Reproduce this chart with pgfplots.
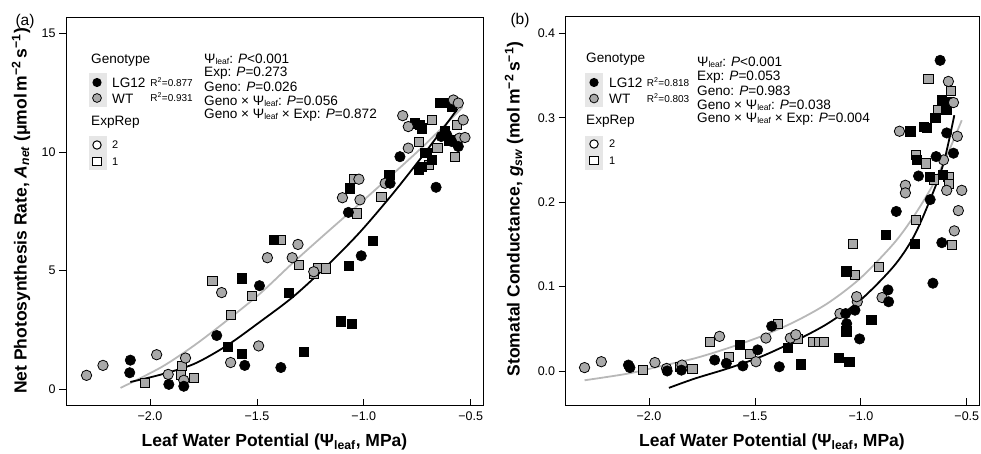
\documentclass[border=0pt]{standalone}
\usepackage{fontspec}
\setmainfont{Liberation Sans}
\usepackage{pgfplots}
\pgfplotsset{compat=1.18}
\usepackage{pgfplotstable}

\definecolor{ptgray}{HTML}{A9A9A9}
\definecolor{lngray}{HTML}{B8B8B8}
\definecolor{keybg}{HTML}{E6E6E6}

% ---------------- Panel (a): Net photosynthesis ----------------
\pgfplotstableread{
x y
-2.092 1.23
-2.095 0.70
-1.912 0.21
-1.842 0.13
-1.688 2.27
-1.557 1.01
-1.488 4.37
-1.388 0.92
-1.072 7.46
-1.012 5.63
-0.877 8.69
-0.831 9.81
-0.662 8.52
-0.638 10.66
-0.612 10.73
-0.589 10.45
-0.558 10.24
}\aLGc
\pgfplotstableread{
x y
-1.638 1.79
-1.569 4.68
-1.569 1.51
-1.420 6.30
-1.351 4.08
-1.282 1.58
-1.108 2.87
-1.058 2.77
-1.069 5.21
-0.957 6.27
-1.065 8.48
-0.881 9.05
-0.760 11.22
-0.737 11.15
-0.729 11.01
-0.644 12.07
-0.612 12.07
-0.589 11.92
-0.742 9.25
-0.715 9.96
-0.706 9.96
-0.683 9.68
-0.729 9.39
-0.620 10.90
-0.600 10.50
}\aLGs
\pgfplotstableread{
x y
-2.297 0.59
-2.220 1.01
-1.969 1.46
-1.915 0.63
-1.834 1.32
-1.842 0.38
-1.623 1.13
-1.492 1.83
-1.665 4.08
-1.451 5.55
-1.308 6.11
-1.335 5.55
-1.234 4.96
-1.100 8.08
-1.018 7.99
-1.023 8.86
-0.900 8.69
-0.818 11.54
-0.792 11.08
-0.792 10.17
-0.581 12.20
-0.558 12.07
-0.535 11.36
-0.553 10.59
-0.527 10.62
}\aWTc
\pgfplotstableread{
x y
-2.023 0.28
-1.851 0.99
-1.854 0.62
-1.795 0.49
-1.708 4.56
-1.620 3.13
-1.523 3.93
-1.389 6.30
-1.303 5.24
-1.234 4.89
-1.215 5.13
-1.177 5.10
-1.046 8.86
-1.034 7.42
-0.918 8.13
-0.743 10.45
-0.683 11.36
-0.563 11.15
-0.656 10.17
-0.574 9.81
-0.694 9.46
}\aWTs

% ---------------- Panel (b): Stomatal conductance ----------------
\pgfplotstableread{
x y
-2.097 0.007
-2.090 0.004
-1.914 0.000
-1.847 0.001
-1.690 0.013
-1.635 0.009
-1.557 0.006
-1.487 0.025
-1.421 0.053
-1.385 0.005
-1.072 0.068
-1.067 0.056
-1.028 0.072
-1.006 0.038
-0.872 0.096
-0.869 0.082
-0.833 0.189
-0.728 0.231
-0.673 0.203
-0.660 0.104
-0.645 0.254
-0.626 0.368
-0.618 0.152
-0.595 0.282
-0.563 0.258
}\bLGc
\pgfplotstableread{
x y
-1.573 0.031
-1.346 0.027
-1.283 0.008
-1.106 0.016
-1.055 0.011
-1.069 0.118
-1.069 0.047
-0.951 0.061
-0.881 0.161
-0.767 0.284
-0.704 0.289
-0.689 0.288
-0.746 0.151
-0.736 0.250
-0.649 0.300
-0.618 0.321
-0.587 0.319
-0.676 0.230
-0.613 0.232
-0.597 0.309
}\bLGs
\pgfplotstableread{
x y
-2.304 0.004
-2.225 0.011
-1.972 0.010
-1.917 0.003
-1.844 0.007
-1.667 0.041
-1.495 0.011
-1.448 0.039
-1.333 0.039
-1.307 0.043
-1.099 0.068
-1.017 0.082
-1.020 0.088
-0.900 0.087
-0.818 0.284
-0.790 0.220
-0.790 0.211
-0.587 0.343
-0.563 0.318
-0.545 0.278
-0.595 0.214
-0.524 0.214
-0.540 0.190
-0.559 0.166
-0.610 0.250
}\bWTc
\pgfplotstableread{
x y
-2.030 0.001
-1.854 0.005
-1.795 0.002
-1.714 0.034
-1.624 0.017
-1.521 0.020
-1.390 0.056
-1.299 0.038
-1.225 0.034
-1.200 0.034
-1.174 0.034
-1.038 0.151
-1.030 0.114
-0.916 0.123
-0.739 0.179
-0.739 0.256
-0.692 0.246
-0.657 0.227
-0.681 0.346
-0.634 0.309
-0.576 0.332
-0.587 0.230
-0.571 0.149
-0.585 0.222
}\bWTs

\pgfplotsset{
  panel/.style={
    scale only axis,
    anchor=south west,
    axis line style={line width=0.9pt},
    tick align=inside,
    major tick length=7pt,
    tick style={black, line width=0.8pt},
    ytick style={xshift=-7pt},
    xtick pos=bottom, ytick pos=left,
    xmin=-2.393, xmax=-0.4425,
    xtick={-2,-1.5,-1,-0.5},
    xticklabels={−2.0,−1.5,−1.0,−0.5},
    tick label style={font=\fontsize{12.5}{14}\selectfont},
    xticklabel style={yshift=-3pt},
    yticklabel style={xshift=-7pt},
  },
  lgc/.style={only marks, mark=*, mark size=5.2pt, mark options={fill=black, draw=black, line width=0.6pt}},
  lgs/.style={only marks, mark=square*, mark size=4.6pt, mark options={fill=black, draw=black, line width=0.6pt}},
  wtc/.style={only marks, mark=*, mark size=5.2pt, mark options={fill=ptgray, draw=black, line width=0.8pt}},
  wts/.style={only marks, mark=square*, mark size=4.6pt, mark options={fill=ptgray, draw=black, line width=0.8pt}},
}

\newcommand{\legf}{\fontsize{13.6}{15}\selectfont}
\newcommand{\rsqf}{\fontsize{10}{11}\selectfont}
\newcommand{\ttlf}{\fontsize{17.5}{19}\selectfont\bfseries}
\newcommand{\lf}{\raisebox{-0.08em}{\fontsize{8.5}{9}\selectfont leaf}}

\begin{document}
\begin{tikzpicture}
\useasboundingbox (0,0) rectangle (981pt,453pt);

\begin{axis}[panel, at={(66pt,47.3pt)}, width=417pt, height=388.7pt,
  ymin=-0.69, ymax=15.70, ytick={0,5,10,15}, yticklabels={0,5,10,15}]
\addplot[wts] table {\aWTs};
\addplot[lgs] table {\aLGs};
\addplot[wtc] table {\aWTc};
\addplot[lgc] table {\aLGc};
\addplot[smooth, lngray, line width=1.8pt] coordinates {
(-2.138,0.06) (-1.946,0.94) (-1.792,1.86) (-1.638,2.92) (-1.485,4.04) (-1.331,5.34)
(-1.177,6.58) (-1.023,7.80) (-0.869,9.04) (-0.715,10.31) (-0.538,11.90)};
\addplot[smooth, black, line width=1.8pt] coordinates {
(-2.092,0.31) (-1.946,0.63) (-1.792,1.08) (-1.638,1.86) (-1.485,2.85) (-1.331,3.90)
(-1.177,5.17) (-1.023,6.58) (-0.869,8.20) (-0.715,9.96) (-0.562,11.82)};
\end{axis}

\begin{axis}[panel, at={(565.7pt,48pt)}, width=413.3pt, height=388.3pt,
  ymin=-0.0403, ymax=0.4197, ytick={0,0.1,0.2,0.3,0.4}, yticklabels={0.0,0.1,0.2,0.3,0.4}]
\addplot[wts] table {\bWTs};
\addplot[lgs] table {\bLGs};
\addplot[wtc] table {\bWTc};
\addplot[lgc] table {\bLGc};
\addplot[smooth, lngray, line width=1.8pt] coordinates {
(-2.304,-0.011) (-2.097,-0.003) (-1.941,0.006) (-1.784,0.015) (-1.628,0.027) (-1.471,0.041)
(-1.315,0.058) (-1.158,0.080) (-1.002,0.110) (-0.845,0.151) (-0.751,0.183) (-0.657,0.222)
(-0.579,0.264) (-0.524,0.297)};
\addplot[smooth, black, line width=1.8pt] coordinates {
(-1.906,-0.020) (-1.784,-0.009) (-1.628,0.003) (-1.471,0.017) (-1.315,0.035) (-1.158,0.056)
(-1.002,0.084) (-0.845,0.124) (-0.751,0.159) (-0.673,0.203) (-0.610,0.246) (-0.559,0.303)};
\end{axis}

\begin{scope}[x=1pt, y=-1pt, shift={(0pt,453pt)}]
% panel letters
\node[font=\fontsize{15.5}{17}\selectfont] at (25,21) {(a)};
\node[font=\fontsize{15.5}{17}\selectfont] at (520,20) {(b)};
% axis titles
\node[font=\ttlf, rotate=90] at (21,211) {Net Photosynthesis Rate, \textit{A\textsubscript{net}} (μmol\,m\textsuperscript{−2}\,s\textsuperscript{−1})};
\node[font=\ttlf, rotate=90] at (514,209) {Stomatal Conductance, \textit{g\textsubscript{sw}} (mol\,m\textsuperscript{−2}\,s\textsuperscript{−1})};
\node[font=\ttlf] at (274.5,442) {Leaf Water Potential (Ψ\textsubscript{leaf}, MPa)};
\node[font=\ttlf] at (772,442) {Leaf Water Potential (Ψ\textsubscript{leaf}, MPa)};

% ---- legend (a)
\fill[keybg] (89,73) rectangle (107,107);
\fill[keybg] (89,136) rectangle (107,170);
\node[font=\legf, anchor=west, inner sep=0pt] at (91,60) {Genotype};
\fill[black] (97,82.5) circle[radius=4.6pt];
\filldraw[fill=ptgray, draw=black, line width=0.8pt] (97,98) circle[radius=4.4pt];
\node[font=\legf, anchor=west, inner sep=0pt] at (112,83) {LG12};
\node[font=\legf, anchor=west, inner sep=0pt] at (112,99) {WT};
\node[font=\rsqf, anchor=east, inner sep=0pt] at (193,82) {R\textsuperscript{2}=0.877};
\node[font=\rsqf, anchor=east, inner sep=0pt] at (193,97) {R\textsuperscript{2}=0.931};
\node[font=\legf, anchor=west, inner sep=0pt] at (91,122.5) {ExpRep};
\filldraw[fill=white, draw=black, line width=1pt] (97,145) circle[radius=4.2pt];
\filldraw[fill=white, draw=black, line width=1pt] (92.8,157.5) rectangle (101.2,165.9);
\node[font=\fontsize{11}{12}\selectfont, anchor=west, inner sep=0pt] at (112,145) {2};
\node[font=\fontsize{11}{12}\selectfont, anchor=west, inner sep=0pt] at (112,161.7) {1};
% stats (a)
\node[font=\legf, anchor=west, inner sep=0pt] at (204,59.3) {Ψ\lf: \textit{P}<0.001};
\node[font=\legf, anchor=west, inner sep=0pt] at (204,72.8) {Exp: \textit{P}=0.273};
\node[font=\legf, anchor=west, inner sep=0pt] at (204,86.9) {Geno: \textit{P}=0.026};
\node[font=\legf, anchor=west, inner sep=0pt] at (204,101) {Geno × Ψ\lf: \textit{P}=0.056};
\node[font=\legf, anchor=west, inner sep=0pt] at (204,115.5) {Geno × Ψ\lf{} × Exp: \textit{P}=0.872};

% ---- legend (b)
\fill[keybg] (585,73) rectangle (603,107);
\fill[keybg] (585,136) rectangle (603,170);
\node[font=\legf, anchor=west, inner sep=0pt] at (586,59.3) {Genotype};
\fill[black] (594,82.5) circle[radius=4.6pt];
\filldraw[fill=ptgray, draw=black, line width=0.8pt] (594,98.5) circle[radius=4.4pt];
\node[font=\legf, anchor=west, inner sep=0pt] at (609,82.5) {LG12};
\node[font=\legf, anchor=west, inner sep=0pt] at (609,99) {WT};
\node[font=\rsqf, anchor=east, inner sep=0pt] at (689.5,82) {R\textsuperscript{2}=0.818};
\node[font=\rsqf, anchor=east, inner sep=0pt] at (689.5,98) {R\textsuperscript{2}=0.803};
\node[font=\legf, anchor=west, inner sep=0pt] at (586,121.7) {ExpRep};
\filldraw[fill=white, draw=black, line width=1pt] (594,144) circle[radius=4.2pt];
\filldraw[fill=white, draw=black, line width=1pt] (589.8,156.5) rectangle (598.2,164.9);
\node[font=\fontsize{11}{12}\selectfont, anchor=west, inner sep=0pt] at (609,144) {2};
\node[font=\fontsize{11}{12}\selectfont, anchor=west, inner sep=0pt] at (609,160.7) {1};
% stats (b)
\node[font=\legf, anchor=west, inner sep=0pt] at (697,62.3) {Ψ\lf: \textit{P}<0.001};
\node[font=\legf, anchor=west, inner sep=0pt] at (697,76.7) {Exp: \textit{P}=0.053};
\node[font=\legf, anchor=west, inner sep=0pt] at (697,90.7) {Geno: \textit{P}=0.983};
\node[font=\legf, anchor=west, inner sep=0pt] at (697,105) {Geno × Ψ\lf: \textit{P}=0.038};
\node[font=\legf, anchor=west, inner sep=0pt] at (697,119) {Geno × Ψ\lf{} × Exp: \textit{P}=0.004};
\end{scope}
\end{tikzpicture}
\end{document}
